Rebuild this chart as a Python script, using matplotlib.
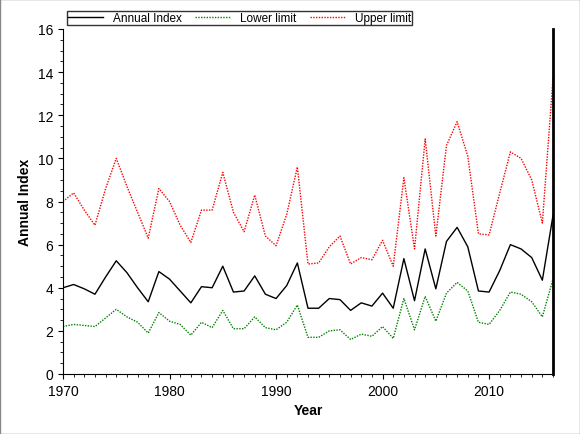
import matplotlib
matplotlib.use('Agg')
import matplotlib.pyplot as plt
from matplotlib.ticker import MultipleLocator

years = list(range(1970, 2017))
annual = [4.0, 4.15, 3.95, 3.7, 4.5, 5.25, 4.7, 4.0, 3.35, 4.75, 4.4, 3.85, 3.3, 4.05, 4.0, 5.0,
          3.8, 3.85, 4.55, 3.7, 3.5, 4.1, 5.15, 3.05, 3.05, 3.5, 3.45, 2.95, 3.3, 3.15, 3.75, 3.05,
          5.35, 3.4, 5.8, 3.95, 6.15, 6.8, 5.9, 3.85, 3.8, 4.8, 6.0, 5.8, 5.4, 4.35, 7.35]
lower = [2.2, 2.3, 2.25, 2.2, 2.6, 3.0, 2.65, 2.4, 1.9, 2.85, 2.45, 2.3, 1.8, 2.4, 2.15, 2.95,
         2.1, 2.1, 2.65, 2.15, 2.05, 2.4, 3.2, 1.7, 1.7, 2.0, 2.05, 1.6, 1.85, 1.75, 2.2, 1.65,
         3.5, 2.05, 3.6, 2.45, 3.75, 4.25, 3.85, 2.4, 2.3, 2.95, 3.8, 3.7, 3.35, 2.65, 4.4]
upper = [8.0, 8.4, 7.6, 6.9, 8.6, 10.0, 8.7, 7.5, 6.3, 8.6, 8.0, 6.9, 6.1, 7.6, 7.6, 9.35,
         7.5, 6.6, 8.3, 6.4, 5.95, 7.4, 9.6, 5.1, 5.15, 5.9, 6.4, 5.1, 5.4, 5.3, 6.2, 5.0,
         9.1, 5.8, 10.9, 6.4, 10.6, 11.7, 10.1, 6.5, 6.45, 8.4, 10.3, 10.0, 9.0, 7.0, 13.7]

plt.rcParams['font.family'] = ['Liberation Sans', 'DejaVu Sans']
fig = plt.figure(figsize=(5.8, 4.35), dpi=100)
fig.patches.append(plt.Rectangle((0, 0), 1, 1, transform=fig.transFigure, fill=False,
                                 edgecolor='#888888', lw=1))
ax = fig.add_axes([63/580, 60/435, 490/580, 345/435])

ax.plot(years, annual, color='black', lw=1, label='Annual Index')
ax.plot(years, lower, color='green', lw=1, ls=(0, (1, 1)), label='Lower limit')
ax.plot(years, upper, color='red', lw=1, ls=(0, (1, 1)), label='Upper limit')

ax.set_xlim(1970, 2016)
ax.set_ylim(0, 16)
ax.set_yticks(range(0, 17, 2))
ax.yaxis.set_minor_locator(MultipleLocator(0.5))
ax.xaxis.set_minor_locator(MultipleLocator(1))
ax.tick_params(labelsize=10)
ax.set_xlabel('Year', fontsize=10, fontweight='bold')
ax.set_ylabel('Annual Index', fontsize=10, fontweight='bold')
ax.spines['top'].set_visible(False)
ax.spines['right'].set_linewidth(2)

ax.legend(loc='lower left', bbox_to_anchor=(0.0, 1.0, 0.72, 0.05), ncol=3, mode='expand',
          frameon=True, fancybox=False, edgecolor='black', fontsize=8.5,
          borderpad=0.1, handlelength=3, borderaxespad=0.3)

fig.savefig('out.png')
